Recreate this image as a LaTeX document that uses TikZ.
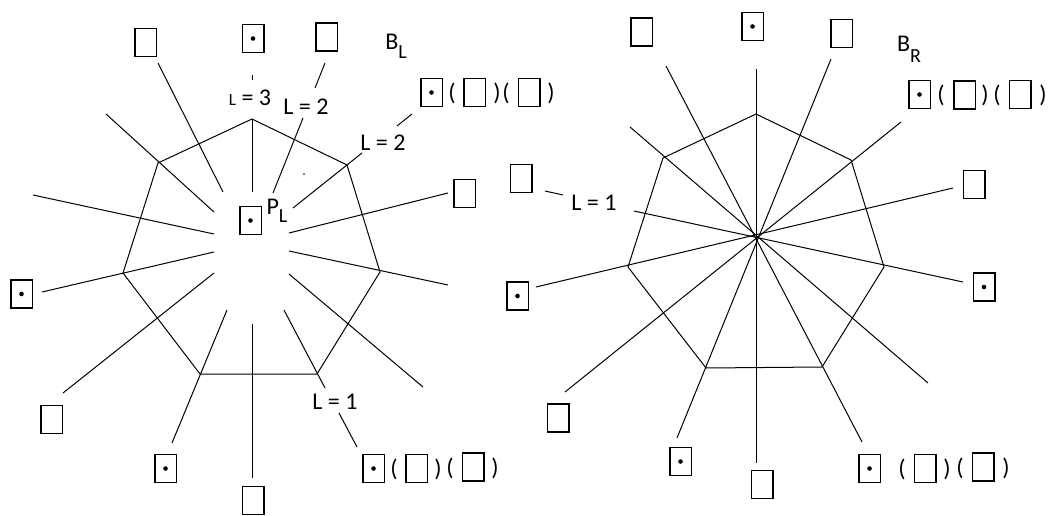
\documentclass[tikz,border=0pt]{standalone}
\usepackage{fontspec}
\setmainfont{Carlito}
\begin{document}
\begin{tikzpicture}[x=1pt,y=-1pt,
  ln/.style={line width=1pt},
  bx/.style={draw, line width=1.5pt, minimum width=21.5pt, minimum height=28pt, inner sep=0pt},
  dbx/.style={bx, path picture={\fill (path picture bounding box.center) circle (2.3pt);}},
  lbl/.style={font=\fontsize{24}{24}\selectfont, inner sep=0pt, text=black},
  prn/.style={lbl}]
\useasboundingbox (0,0) rectangle (1051,516);

% ---------------- LEFT DIAGRAM ----------------
\coordinate (l1) at (252,119);
\coordinate (l2) at (347,165);
\coordinate (l3) at (380,272);
\coordinate (l4) at (317,374);
\coordinate (l5) at (200,374);
\coordinate (l6) at (123,273);
\coordinate (l7) at (158,163);
\draw[ln] (l1) -- (l2) -- (l3) -- (l4) -- (l5) -- (l6) -- (l7) -- cycle;

\draw[ln] (158,63) -- (223,192);
\draw[ln] (106,114) -- (214,212);
\draw[ln] (33,195) -- (214,234);
\draw[ln] (l1) -- (252,192);
\draw[ln] (252,75) -- (252,80);
\draw[ln] (325,63) -- (315,88);
\draw[ln] (303,118) -- (273,193);
\draw[ln] (293,208) -- (362,153);
\draw[ln] (397,126) -- (412,114);
\draw[ln] (289,233) -- (448,193);
\draw[ln] (289,251) -- (448,285);
\draw[ln] (42,292) -- (214,252);
\draw[ln] (214,273) -- (63,393);
\draw[ln] (227,310) -- (172,443);
\draw[ln] (252,324) -- (252,478);
\draw[ln] (284,310) -- (325,388);
\draw[ln] (339,413) -- (357,447);
\draw[ln] (289,274) -- (423,387);
\fill (304,174) circle (0.8pt);

% boxes left
\node[bx]  (lTL) at (145.5,42.5) {};
\node[dbx] (lT)  at (253,38.5) {};
\node[bx]  (lTR) at (326.5,37) {};
\node[dbx] (lG1a) at (431.5,92.5) {};
\node[prn] (lG1p1) at (452,93) {(};
\node[bx]  (lG1b) at (474.5,92.5) {};
\node[prn] (lG1p2) at (497,93) {)};
\node[prn] (lG1p3) at (506,93) {(};
\node[bx]  (lG1c) at (529,92.5) {};
\node[prn] (lG1p4) at (551,93) {)};
\node[bx]  (lR)  at (464.5,193.5) {};
\node[dbx] (lP)  at (250.5,220.5) {};
\node[dbx] (lL)  at (21.5,294) {};
\node[bx]  (lLL) at (51.5,419.5) {};
\node[dbx] (lBL) at (165.5,468.5) {};
\node[bx]  (lB)  at (253,500.5) {};
\node[dbx] (lG2a) at (373.5,468.5) {};
\node[prn] (lG2p1) at (394,469) {(};
\node[bx]  (lG2b) at (416.5,468.5) {};
\node[prn] (lG2p2) at (438,469) {)};
\node[prn] (lG2p3) at (450,468) {(};
\node[bx]  (lG2c) at (473,467) {};
\node[prn] (lG2p4) at (495,468) {)};

% labels left
\node[lbl] (tL3) at (250,98) {{\fontsize{17}{17}\selectfont L} = 3};
\node[lbl] (tL2a) at (306,107) {L = 2};
\node[lbl] (tL2b) at (383,143) {L = 2};
\node[lbl] (tL1) at (335,402) {L = 1};
\node[lbl] (tPL) at (277,211) {P\raisebox{-8pt}{\fontsize{20}{20}\selectfont L}};
\node[lbl] (tBL) at (396,46) {B\raisebox{-9pt}{\fontsize{20}{20}\selectfont L}};

% ---------------- RIGHT DIAGRAM ----------------
\coordinate (r1) at (756,114);
\coordinate (r2) at (851,160);
\coordinate (r3) at (884,267);
\coordinate (r4) at (822,367);
\coordinate (r5) at (706,368);
\coordinate (r6) at (628,267);
\coordinate (r7) at (663,158);
\draw[ln] (r1) -- (r2) -- (r3) -- (r4) -- (r5) -- (r6) -- (r7) -- cycle;

\draw[ln] (756,69) -- (756,463);
\draw[ln] (666,66) -- (862,442);
\draw[ln] (630,127) -- (928,383);
\draw[ln] (634,211) -- (963,282);
\draw[ln] (536,287) -- (953,188);
\draw[ln] (565,392) -- (901,122);
\draw[ln] (677,438) -- (831,59);
\draw[ln] (545,191) -- (563,195);

% boxes right
\node[bx]  (rTL) at (641.5,32) {};
\node[dbx] (rT)  at (752.5,26.5) {};
\node[bx]  (rTR) at (841.5,33.5) {};
\node[dbx] (rG1a) at (919.5,94.5) {};
\node[prn] (rG1p1) at (941,95) {(};
\node[bx]  (rG1b) at (964.5,95) {};
\node[prn] (rG1p2) at (985,95) {)};
\node[prn] (rG1p3) at (997,95) {(};
\node[bx]  (rG1c) at (1020,94.5) {};
\node[prn] (rG1p4) at (1043,95) {)};
\node[bx]  (rR)  at (974,184.5) {};
\node[dbx] (rRR) at (984,287) {};
\node[dbx] (rG2a) at (869.5,468.5) {};
\node[prn] (rG2p1) at (902,469) {(};
\node[bx]  (rG2b) at (925,468.5) {};
\node[prn] (rG2p2) at (947,469) {)};
\node[prn] (rG2p3) at (960,468) {(};
\node[bx]  (rG2c) at (983,467) {};
\node[prn] (rG2p4) at (1006,468) {)};
\node[bx]  (rB)  at (762,484.5) {};
\node[dbx] (rBL) at (680.5,461.5) {};
\node[bx]  (rLL) at (558,418) {};
\node[dbx] (rL)  at (517.5,296) {};
\node[bx]  (rUL) at (521,178.5) {};

% labels right
\node[lbl] (tRL1) at (594,203) {L = 1};
\node[lbl] (tBR) at (909,49) {B\raisebox{-11pt}{\fontsize{20}{20}\selectfont R}};
\end{tikzpicture}
\end{document}
